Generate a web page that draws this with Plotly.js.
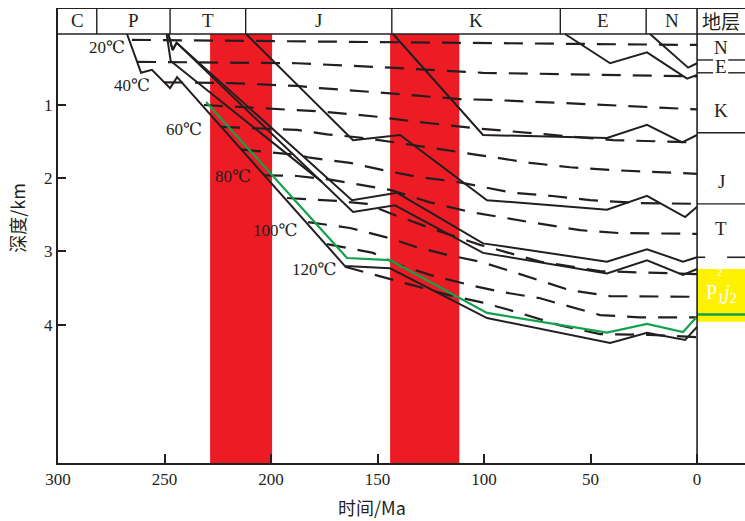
<!DOCTYPE html>
<html><head><meta charset="utf-8">
<script src="https://cdn.plot.ly/plotly-3.0.1.min.js"></script>
<style>html,body{margin:0;padding:0;background:#fff}#chart{width:745px;height:521px}</style>
</head><body><div id="chart"></div>
<script>
// ---------- data (time in Ma, depth in km) ----------
// burial curves
const burialP_t   = [267.6, 261.0, 255.9, 247.4, 244.1, 165.3, 144.1, 98.6, 40.8, 23.5, 5.6, 0];
const burialP_d   = [0.03, 0.56, 0.52, 0.77, 0.62, 3.20, 3.23, 3.91, 4.25, 4.11, 4.21, 4.03];
const burialP1j2_t = [230.5, 164.3, 144.1, 98.6, 42.3, 23.5, 6.6, 0];
const burialP1j2_d = [0.96, 3.09, 3.12, 3.84, 4.11, 3.99, 4.10, 3.89];
const burialT0_t  = [249.0, 247.1, 176.1];
const burialT0_d  = [0.03, 0.40, 2.05];
const burialT1_t  = [248.2, 246.2, 244.3, 161.5, 141.8, 100.5, 42.3, 23.5, 6.6, 0];
const burialT1_d  = [0.03, 0.25, 0.15, 2.46, 2.37, 3.02, 3.30, 3.12, 3.32, 3.24];
const burialT2_t  = [248.2, 246.2, 244.3, 162.0, 140.8, 100.5, 42.3, 23.5, 6.6, 0];
const burialT2_d  = [0.03, 0.25, 0.15, 2.30, 2.20, 2.89, 3.14, 2.97, 3.14, 3.08];
const burialJ_t   = [211.7, 161.5, 139.4, 98.6, 42.3, 23.5, 5.6, 0];
const burialJ_d   = [0.03, 1.48, 1.41, 2.30, 2.43, 2.24, 2.53, 2.39];
const burialK_t   = [142.7, 100.5, 42.3, 23.5, 7.0, 0];
const burialK_d   = [0.03, 1.41, 1.45, 1.27, 1.51, 1.41];
const burialE_t   = [62.0, 40.8, 23.5, 4.7, 0];
const burialE_d   = [0.03, 0.43, 0.28, 0.64, 0.59];
const burialN_t   = [22.1, 4.2, 0];
const burialN_d   = [0.03, 0.49, 0.43];

// isotherms
const iso20_t  = [265.3, 186.4, 101.9, 0];
const iso20_d  = [0.11, 0.13, 0.16, 0.18];
const iso30_t  = [262.9, 187.8, 144.1, 100.5, 0];
const iso30_d  = [0.41, 0.43, 0.49, 0.56, 0.61];
const iso40_t  = [250.2, 219.2, 187.8, 177.0, 148.8, 130.0, 111.3, 97.2, 64.3, 0];
const iso40_d  = [0.69, 0.70, 0.74, 0.77, 0.83, 0.88, 0.92, 0.93, 0.97, 1.06];
const iso50_t  = [231.5, 189.7, 175.6, 150.2, 131.5, 103.3, 86.4, 62.9, 39.4, 0];
const iso50_d  = [1.00, 1.06, 1.09, 1.16, 1.23, 1.32, 1.36, 1.42, 1.48, 1.51];
const iso60_t  = [223.5, 187.8, 173.7, 159.6, 139.4, 122.1, 103.3, 78.4, 59.6, 39.4, 0];
const iso60_d  = [1.30, 1.34, 1.40, 1.44, 1.52, 1.60, 1.68, 1.79, 1.85, 1.89, 1.94];
const iso70_t  = [213.6, 187.8, 181.7, 162.9, 147.4, 131.5, 112.7, 100.5, 86.4, 69.0, 50.2, 26.8, 0];
const iso70_d  = [1.61, 1.68, 1.72, 1.79, 1.89, 1.98, 2.05, 2.12, 2.20, 2.24, 2.30, 2.34, 2.35];
const iso80_t  = [203.3, 187.8, 172.3, 153.5, 144.1, 125.4, 106.6, 78.4, 54.9, 36.2, 0];
const iso80_d  = [1.96, 1.97, 2.02, 2.11, 2.16, 2.33, 2.46, 2.60, 2.71, 2.75, 2.76];
const iso90_t  = [192.5, 169.0, 154.9, 144.1, 125.4, 101.9, 73.7, 45.5, 0];
const iso90_d  = [2.27, 2.31, 2.35, 2.48, 2.68, 2.91, 3.14, 3.27, 3.31];
const iso100_t = [182.6, 162.9, 144.1, 131.9, 116.9, 101.9, 86.4, 73.7, 59.6, 40.8, 0];
const iso100_d = [2.60, 2.68, 2.82, 2.94, 3.05, 3.14, 3.28, 3.40, 3.53, 3.61, 3.62];
const iso110_t = [173.7, 152.1, 139.4, 125.4, 106.6, 92.5, 73.7, 59.6, 45.5, 26.8, 0];
const iso110_d = [2.90, 3.02, 3.19, 3.32, 3.46, 3.55, 3.64, 3.76, 3.87, 3.90, 3.90];
const iso120_t = [165.3, 146.5, 131.0, 116.0, 100.5, 84.5, 64.3, 45.5, 22.1, 0];
const iso120_d = [3.21, 3.36, 3.49, 3.60, 3.70, 3.83, 4.01, 4.13, 4.14, 4.17];

// isotherm labels
const isoLabels  = ['20℃', '40℃', '60℃', '80℃', '100℃', '120℃'];
const isoLabel_t = [277.0, 265.3, 240.8, 217.8, 197.7, 179.8];
const isoLabel_d = [0.21, 0.74, 1.34, 1.98, 2.71, 3.25];

// heating periods (red bands)
const band_t0 = [228.6, 144.1];
const band_t1 = [199.5, 111.6];

// geological period header
const periodNames  = ['C', 'P', 'T', 'J', 'K', 'E', 'N'];
const periodBounds = [300, 281.8, 247.4, 211.9, 143.3, 64.2, 23.9, 0];

// stratigraphic column
const columnNames  = ['N', 'E', 'K', 'J', 'T'];
const columnName_d = [0.21, 0.47, 1.07, 2.05, 2.69];
const colSolid_d   = [1.38, 2.35];
const colBroken_d  = [0.385, 0.56];
const colDashed_d  = 3.08;
const sourceTop_d  = 3.24, sourceBottom_d = 3.96, sourceLine_d = 3.86;

const xTicks = [300, 250, 200, 150, 100, 50, 0];
const yTicks = [1, 2, 3, 4];

// ---------- figure ----------
const INK = '#231f20';
const RED = '#ed1c24';
const GREEN = '#13a24b';
const SERIF = 'Liberation Serif, DejaVu Serif, Noto Sans CJK SC, serif';
const CJK = 'Noto Sans CJK SC, sans-serif';
const COL_L = 0, COL_R = -22.5, TOP = -0.325, HDR = 0.03, BOT = 5.89;

const traces = [];
function solid(t, d, color, w) {
  traces.push({x: t, y: d, type: 'scatter', mode: 'lines', hoverinfo: 'skip',
    line: {color: color || INK, width: w || 2}, showlegend: false});
}
function dashed(t, d) {
  traces.push({x: t, y: d, type: 'scatter', mode: 'lines', hoverinfo: 'skip',
    line: {color: INK, width: 2.2, dash: '19px,12px'}, showlegend: false});
}
[[iso20_t, iso20_d], [iso30_t, iso30_d], [iso40_t, iso40_d], [iso50_t, iso50_d],
 [iso60_t, iso60_d], [iso70_t, iso70_d], [iso80_t, iso80_d], [iso90_t, iso90_d],
 [iso100_t, iso100_d], [iso110_t, iso110_d], [iso120_t, iso120_d]].forEach(a => dashed(a[0], a[1]));
solid(burialP_t, burialP_d);
solid(burialT0_t, burialT0_d);
solid(burialT1_t, burialT1_d);
solid(burialT2_t, burialT2_d);
solid(burialJ_t, burialJ_d);
solid(burialK_t, burialK_d);
solid(burialE_t, burialE_d);
solid(burialN_t, burialN_d);
solid(burialP1j2_t, burialP1j2_d, GREEN, 2.2);

const shapes = [];
for (let i = 0; i < band_t0.length; i++) {
  shapes.push({type: 'rect', xref: 'x', yref: 'y', x0: band_t0[i], x1: band_t1[i], y0: HDR, y1: BOT,
    fillcolor: RED, line: {width: 0}, layer: 'below'});
}
shapes.push({type: 'rect', xref: 'x', yref: 'y', x0: COL_L, x1: COL_R, y0: sourceTop_d, y1: sourceBottom_d,
  fillcolor: '#fff200', line: {width: 0}, layer: 'below'});
shapes.push({type: 'line', xref: 'x', yref: 'y', x0: COL_L, x1: COL_R, y0: sourceLine_d, y1: sourceLine_d,
  line: {color: GREEN, width: 2.5}});
shapes.push({type: 'line', xref: 'paper', yref: 'y', x0: 0, x1: 1, y0: TOP, y1: TOP, line: {color: INK, width: 2}});
shapes.push({type: 'line', xref: 'paper', yref: 'y', x0: 0, x1: 1, y0: HDR, y1: HDR, line: {color: INK, width: 1.6}});
for (let i = 1; i < periodBounds.length - 1; i++) {
  shapes.push({type: 'line', xref: 'x', yref: 'y', x0: periodBounds[i], x1: periodBounds[i], y0: TOP, y1: HDR,
    line: {color: INK, width: 1.4}});
}
shapes.push({type: 'line', xref: 'x', yref: 'y', x0: 0, x1: 0, y0: TOP, y1: BOT, line: {color: INK, width: 1.6}});
colSolid_d.forEach(d => shapes.push({type: 'line', xref: 'x', yref: 'y', x0: COL_L, x1: COL_R, y0: d, y1: d,
  line: {color: INK, width: 1.4}}));
colBroken_d.forEach(d => {
  shapes.push({type: 'line', xref: 'x', yref: 'y', x0: COL_L, x1: -7.5, y0: d, y1: d, line: {color: INK, width: 1.4}});
  shapes.push({type: 'line', xref: 'x', yref: 'y', x0: -14.6, x1: COL_R, y0: d, y1: d, line: {color: INK, width: 1.4}});
});
shapes.push({type: 'line', xref: 'x', yref: 'y', x0: COL_L, x1: -3.8, y0: colDashed_d, y1: colDashed_d, line: {color: INK, width: 1.6}});
shapes.push({type: 'line', xref: 'x', yref: 'y', x0: -14.1, x1: COL_R, y0: colDashed_d, y1: colDashed_d, line: {color: INK, width: 1.6}});

const annotations = [];
const hdrMid = (TOP + HDR) / 2;
periodNames.forEach((n, i) => annotations.push({x: (periodBounds[i] + periodBounds[i + 1]) / 2, y: hdrMid,
  xref: 'x', yref: 'y', text: n, showarrow: false, font: {family: SERIF, size: 19, color: INK}}));
annotations.push({x: (COL_L + COL_R) / 2, y: hdrMid, xref: 'x', yref: 'y', text: '地层', showarrow: false,
  font: {family: CJK, size: 19, color: INK}});
columnNames.forEach((n, i) => annotations.push({x: (COL_L + COL_R) / 2, y: columnName_d[i], xref: 'x', yref: 'y',
  text: n, showarrow: false, font: {family: SERIF, size: 19, color: INK}}));
annotations.push({x: (COL_L + COL_R) / 2, y: (sourceTop_d + sourceBottom_d) / 2 - 0.02, xref: 'x', yref: 'y',
  text: 'P<sub>1</sub><i>j</i><sub>2</sub>', showarrow: false, font: {family: SERIF, size: 20, color: '#ffffff'}});
annotations.push({x: (COL_L + COL_R) / 2 + 0.5, y: sourceTop_d + 0.05, xref: 'x', yref: 'y', text: '2',
  showarrow: false, font: {family: SERIF, size: 10, color: '#ffffff'}});
isoLabels.forEach((s, i) => annotations.push({x: isoLabel_t[i], y: isoLabel_d[i], xref: 'x', yref: 'y', text: s,
  showarrow: false, font: {family: SERIF, size: 17, color: INK}}));
annotations.push({x: 152.6, y: 0, xref: 'x', yref: 'paper', yanchor: 'middle', xanchor: 'center', yshift: -44,
  text: '时间/Ma', showarrow: false, font: {family: CJK, size: 18, color: INK}});
annotations.push({x: 0, y: 2.54, xref: 'paper', yref: 'y', xanchor: 'center', yanchor: 'middle', xshift: -41,
  text: '深度/km', textangle: -90, showarrow: false, font: {family: CJK, size: 18, color: INK}});

const layout = {
  width: 745, height: 521,
  margin: {l: 58, r: 0, t: 8, b: 58},
  paper_bgcolor: '#ffffff', plot_bgcolor: '#ffffff',
  showlegend: false,
  xaxis: {range: [300, COL_R], tickvals: xTicks, ticktext: xTicks.map(String), ticks: 'inside', ticklen: 9,
    tickwidth: 2, tickcolor: INK, showline: true, linecolor: INK, linewidth: 2, showgrid: false, zeroline: false,
    tickfont: {family: SERIF, size: 17, color: INK}, fixedrange: true},
  yaxis: {range: [BOT, TOP], tickvals: yTicks, ticktext: yTicks.map(String), ticks: 'inside', ticklen: 8,
    tickwidth: 2, tickcolor: INK, showline: true, linecolor: INK, linewidth: 2, showgrid: false, zeroline: false,
    tickfont: {family: SERIF, size: 17, color: INK}, fixedrange: true},
  shapes: shapes,
  annotations: annotations
};
Plotly.newPlot('chart', traces, layout, {displayModeBar: false, staticPlot: true});
</script>
</body></html>
